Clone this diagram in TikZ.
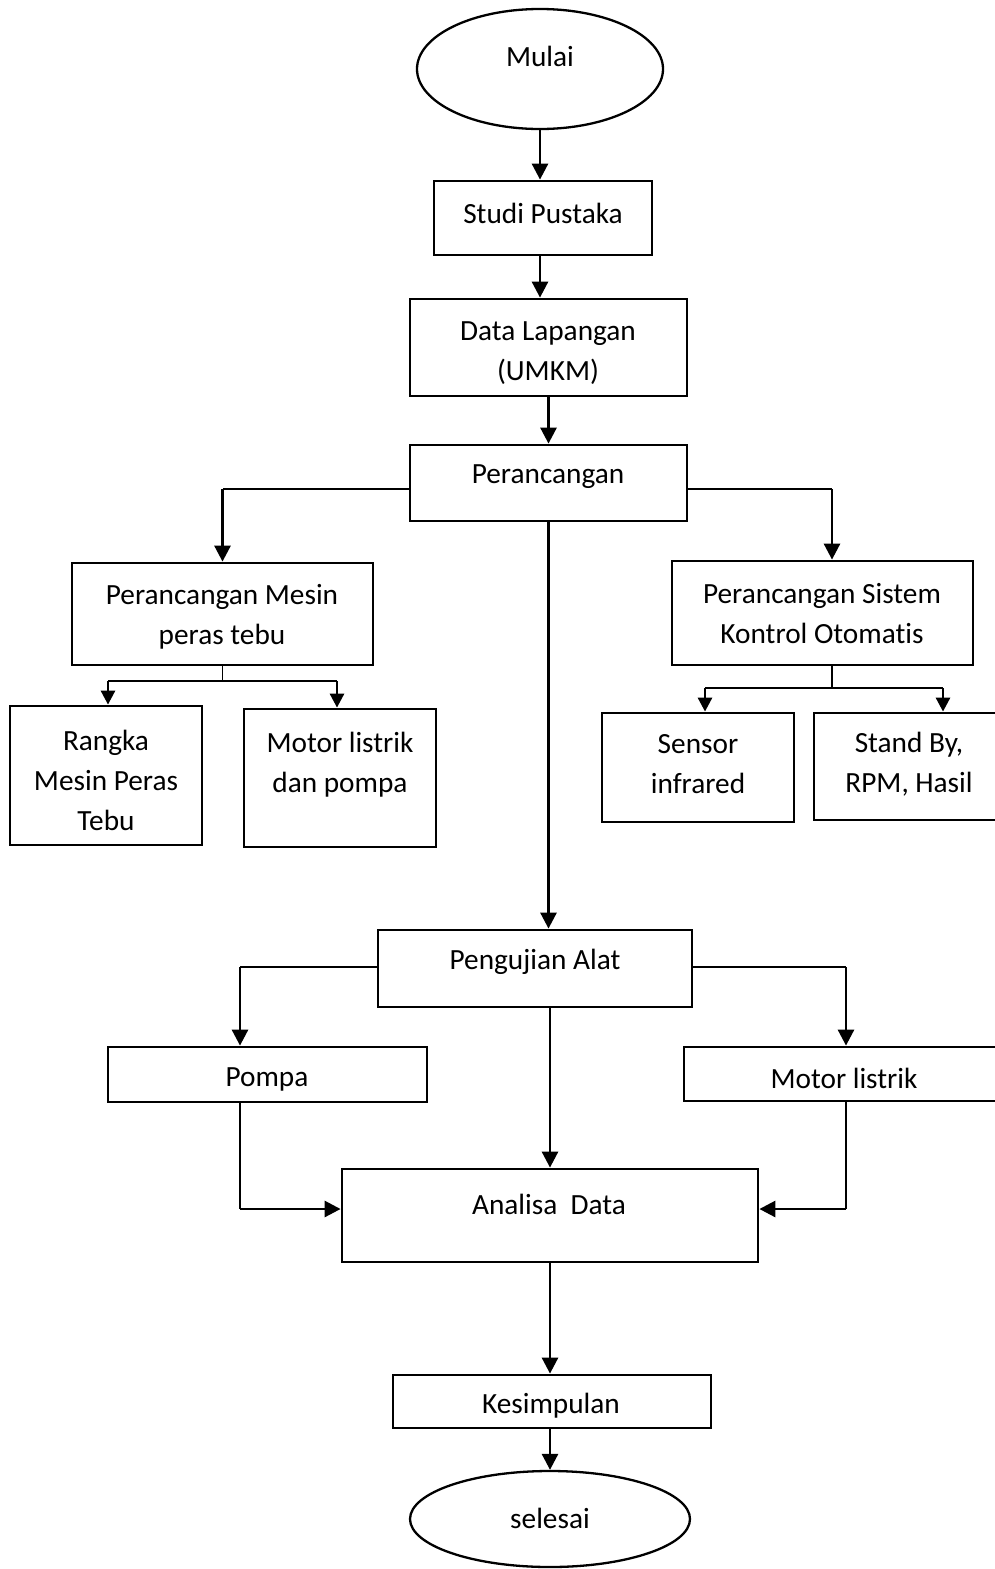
\documentclass[tikz,border=0pt]{standalone}
\usepackage{fontspec}
\setmainfont{Carlito}[Ligatures=CommonOff]
\usetikzlibrary{arrows.meta,shapes.geometric}
\begin{document}
\begin{tikzpicture}[x=1pt,y=-1pt,
  box/.style={draw,line width=2.8pt,inner sep=0pt,minimum width=#1},
  oval/.style={draw,ellipse,line width=2.3pt,inner sep=0pt},
  txt/.style={align=center,inner sep=0pt,font=\fontsize{29.3}{40}\selectfont},
  arr/.style={line width=2.8pt,-{Triangle[length=16pt,width=16pt]}},
  sarr/.style={line width=2.8pt,-{Triangle[length=14pt,width=14pt]}},
  thinln/.style={line width=1.4pt},
  midln/.style={line width=2pt}]
\useasboundingbox (0,0) rectangle (995,1569);

% shapes
\node[oval,minimum width=246pt,minimum height=120pt] (mulai) at (540,69) {};
\node[box=218pt,minimum height=74pt] (studi) at (543,218) {};
\node[box=277pt,minimum height=97pt] (data) at (548.5,347.5) {};
\node[box=277pt,minimum height=76pt] (peran) at (548.5,483) {};
\node[box=301pt,minimum height=102pt] (pm) at (222.5,614) {};
\node[box=192pt,minimum height=139pt] (rangka) at (106,775.5) {};
\node[box=192pt,minimum height=138pt] (mp) at (340,778) {};
\node[box=301pt,minimum height=104pt] (psko) at (822.5,613) {};
\node[box=192pt,minimum height=109pt] (sensor) at (698,767.5) {};
\node[box=190pt,minimum height=107pt] (standby) at (909,766.5) {};
\node[box=314pt,minimum height=77pt] (uji) at (535,968.5) {};
\node[box=319pt,minimum height=55pt] (pompa) at (267.5,1074.5) {};
\node[box=320pt,minimum height=54pt] (motor) at (844,1074) {};
\node[box=416pt,minimum height=93pt] (analisa) at (550,1215.5) {};
\node[box=318pt,minimum height=53pt] (kes) at (552,1401.5) {};
\node[oval,minimum width=280pt,minimum height=96pt] (selesai) at (550,1519) {};

% texts
\node[txt] (tmulai) at (540,56) {Mulai};
\node[txt] (tstudi) at (543,213) {Studi Pustaka};
\node[txt] (tdata) at (548,353) {Data Lapangan\\(UMKM)};
\node[txt] (tperan) at (548,477) {Perancangan};
\node[txt] (tpm) at (222,616.5) {Perancangan Mesin\\peras tebu};
\node[txt] (trangka) at (106,780) {Rangka\\Mesin Peras\\Tebu};
\node[txt] (tmp) at (340,764.5) {Motor listrik\\dan pompa};
\node[txt] (tpsko) at (822,614) {Perancangan Sistem\\Kontrol Otomatis};
\node[txt] (tsensor) at (698,764.5) {Sensor\\infrared};
\node[txt] (tstandby) at (909,764.5) {Stand By,\\RPM, Hasil};
\node[txt] (tuji) at (535,962) {Pengujian Alat};
\node[txt] (tpompa) at (267,1079) {Pompa};
\node[txt] (tmotor) at (844,1078) {Motor listrik};
\node[txt] (tanalisa) at (549,1204) {Analisa\ \ Data};
\node[txt] (tkes) at (551,1406) {Kesimpulan};
\node[txt] (tselesai) at (550,1518) {selesai};

% main flow
\draw[arr] (mulai.south) -- (mulai.south |- studi.north);
\draw[arr] (mulai.south |- studi.south) -- (mulai.south |- data.north);
\draw[arr] (data.south) -- (peran.north);
\draw[arr] (peran.south) -- (peran.south |- uji.north);
\draw[arr] (uji.south -| analisa.north) -- (analisa.north);
\draw[arr] (analisa.south) -- (analisa.south |- kes.north);
\draw[arr] (kes.south -| analisa.south) -- (selesai.north -| analisa.south);

% perancangan branches
\coordinate (pl) at ([yshift=-6pt]peran.west);
\coordinate (pr) at ([yshift=-6pt]peran.east);
\coordinate (pmtop) at (pm.north);
\coordinate (pskotop) at ([xshift=9.5pt]psko.north);
\draw[thinln] (pl) -- (pl -| pmtop);
\draw[arr] (pl -| pmtop) -- (pmtop);
\draw[thinln] (pr) -- (pr -| pskotop);
\draw[arr] (pr -| pskotop) -- (pskotop);

% pm sub-branch
\coordinate (pmj) at ([yshift=-15pt]pm.south);
\coordinate (rtop) at ([xshift=2pt]rangka.north);
\coordinate (mptop) at ([xshift=-3pt]mp.north);
\draw[thinln] (pm.south) -- (pmj);
\draw[midln] (pmj -| rtop) -- (pmj -| mptop);
\draw[sarr] (pmj -| rtop) -- (rtop);
\draw[sarr] (pmj -| mptop) -- (mptop);

% psko sub-branch
\coordinate (pskobot) at ([xshift=9.5pt]psko.south);
\coordinate (pskoj) at ([yshift=-22pt]pskobot);
\coordinate (stop) at ([xshift=7pt]sensor.north);
\coordinate (sbtop) at ([xshift=34pt]standby.north);
\draw[thinln] (pskobot) -- (pskoj);
\draw[midln] (pskoj -| stop) -- (pskoj -| sbtop);
\draw[sarr] (pskoj -| stop) -- (stop);
\draw[sarr] (pskoj -| sbtop) -- (sbtop);

% pengujian branches
\coordinate (ul) at ([yshift=1.5pt]uji.west);
\coordinate (ur) at ([yshift=1.5pt]uji.east);
\coordinate (ptop) at ([xshift=-27.5pt]pompa.north);
\coordinate (mtop) at ([xshift=2pt]motor.north);
\draw[thinln] (ul) -- (ul -| ptop);
\draw[arr] (ul -| ptop) -- (ptop);
\draw[thinln] (ur) -- (ur -| mtop);
\draw[arr] (ur -| mtop) -- (mtop);

% into analisa
\coordinate (al) at ([yshift=6.5pt]analisa.west);
\coordinate (ar) at ([yshift=6.5pt]analisa.east);
\coordinate (pbot) at ([xshift=-27.5pt]pompa.south);
\coordinate (mbot) at ([xshift=2pt]motor.south);
\draw[thinln] (pbot) -- (pbot |- al);
\draw[arr] (pbot |- al) -- (al);
\draw[thinln] (mbot) -- (mbot |- ar);
\draw[arr] (mbot |- ar) -- (ar);
\end{tikzpicture}
\end{document}
